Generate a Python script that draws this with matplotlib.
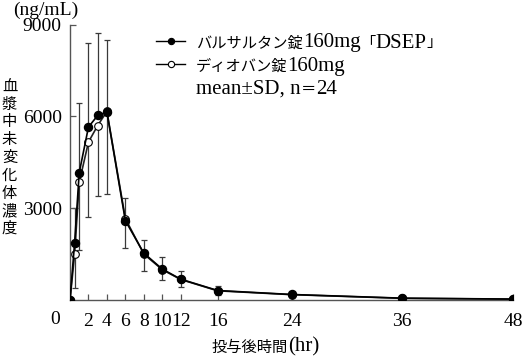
import matplotlib
matplotlib.use("Agg")
import matplotlib.pyplot as plt
from matplotlib.lines import Line2D
import numpy as np

# --- data ---
hours = [0, 0.5, 1, 2, 3, 4, 6, 8, 10, 12, 16, 24, 36, 48]
dsep_mean = [0, 1870, 4160, 5650, 6030, 6140, 2590, 1530, 1010, 680, 310, 180, 60, 30]
dsep_sd = [0, 1150, 2290, 2760, 2680, 2350, 755, 430, 386, 270, 140, 60, 25, 15]
diovan_mean = [0, 1490, 3840, 5160, 5700, 6160, 2660, 1500, 990, 670, 300, 175, 55, 28]
diovan_sd = [0, 1110, 2205, 2436, 2300, 2704, 950, 552, 336, 235, 137, 50, 20, 10]

x_ticks = [2, 4, 6, 8, 10, 12, 16, 24, 36, 48]
y_ticks = [3000, 6000, 9000]

label_dsep = "バルサルタン錠160mg「DSEP」"
label_diovan = "ディオバン錠160mg"
label_note = "mean±SD, n＝24"
y_label = "血漿中未変化体濃度"
x_label = "投与後時間(hr)"
unit_label = "(ng/mL)"

W, H = 523, 356
LATIN = ["Liberation Serif", "DejaVu Serif"]
CJK = ["Noto Sans CJK JP", "DejaVu Sans"]
LATIN_SIZE = 14
CJK_SIZE = 11
plt.rcParams["font.family"] = LATIN + CJK


def fx(px):
    return px / W


def fy(px):
    return 1 - px / H


def is_cjk(ch):
    return ord(ch) >= 0x2E80


def draw_mixed(fig, x_px, base_px, s, latin_size=15):
    # latin runs in serif, japanese runs in gothic, on one baseline
    runs = []
    for ch in s:
        c = is_cjk(ch)
        if runs and runs[-1][1] == c:
            runs[-1][0] += ch
        else:
            runs.append([ch, c])
    renderer = fig.canvas.get_renderer()
    x = x_px
    for txt, c in runs:
        t = fig.text(fx(x), fy(base_px), txt, ha="left", va="baseline",
                     family=CJK if c else LATIN, fontsize=CJK_SIZE if c else latin_size)
        x += t.get_window_extent(renderer).width
    return x


fig = plt.figure(figsize=(W / 100, H / 100), dpi=100)
ax = fig.add_axes([fx(70), fy(300), (513 - 70) / W, (300 - 24.5) / H])

zeros = np.zeros(len(hours))
# SD bars: upper for DSEP, lower for Diovan
ax.errorbar(hours, dsep_mean, yerr=[zeros, dsep_sd], fmt="none", ecolor="#3a3a3a",
            elinewidth=0.9, capsize=2.3, capthick=0.9, zorder=1)
ax.errorbar(hours, diovan_mean, yerr=[diovan_sd, zeros], fmt="none", ecolor="#3a3a3a",
            elinewidth=0.9, capsize=2.3, capthick=0.9, zorder=1)

ax.plot(hours, diovan_mean, color="#222222", lw=1.2, marker="o", ms=5.5,
        mfc="white", mec="black", mew=0.8, zorder=3)
ax.plot(hours, dsep_mean, color="black", lw=1.2, marker="o", ms=5.8,
        mfc="black", mec="black", zorder=4)

ax.set_xlim(0, 48)
ax.set_ylim(0, 9000)
ax.set_xticks(x_ticks)
ax.set_yticks(y_ticks)
ax.set_xticklabels([str(t) for t in x_ticks], family=LATIN)
ax.set_yticklabels([str(v) for v in y_ticks], family=LATIN)
ax.tick_params(axis="both", direction="in", length=4, width=0.9, colors="#555555",
               labelcolor="black", labelsize=LATIN_SIZE)
ax.tick_params(axis="x", pad=9)
ax.tick_params(axis="y", pad=6)
for side in ["top", "right"]:
    ax.spines[side].set_visible(False)
for side in ["left", "bottom"]:
    ax.spines[side].set_color("#555555")
    ax.spines[side].set_linewidth(1.0)

# shared origin label "0"
ax.text(-1.6, -0.069, "0", transform=ax.get_xaxis_transform(), ha="center", va="center",
        family=LATIN, fontsize=LATIN_SIZE, clip_on=False)

# legend keys
key_rows = [(40.7, "black"), (64.0, "white")]
for y, face in key_rows:
    fig.add_artist(Line2D([fx(156), fx(185)], [fy(y), fy(y)], transform=fig.transFigure,
                          color="black", lw=1.0))
    fig.add_artist(Line2D([fx(170.5)], [fy(y)], transform=fig.transFigure, marker="o",
                          ms=4.5, mfc=face, mec="black", mew=0.8, lw=0))

draw_mixed(fig, 196, 47.5, label_dsep)
draw_mixed(fig, 196, 70.8, label_diovan)
draw_mixed(fig, 196, 94.0, label_note)

# axis titles
fig.text(fx(46), fy(10), unit_label, ha="center", va="center", family=LATIN,
         fontsize=LATIN_SIZE)
fig.text(fx(9.5), fy(157.5), "\n".join(y_label), ha="center", va="center",
         family=CJK, fontsize=CJK_SIZE, linespacing=1.06)
draw_mixed(fig, 211.5, 351.5, x_label)

fig.savefig("out.png", dpi=100)
